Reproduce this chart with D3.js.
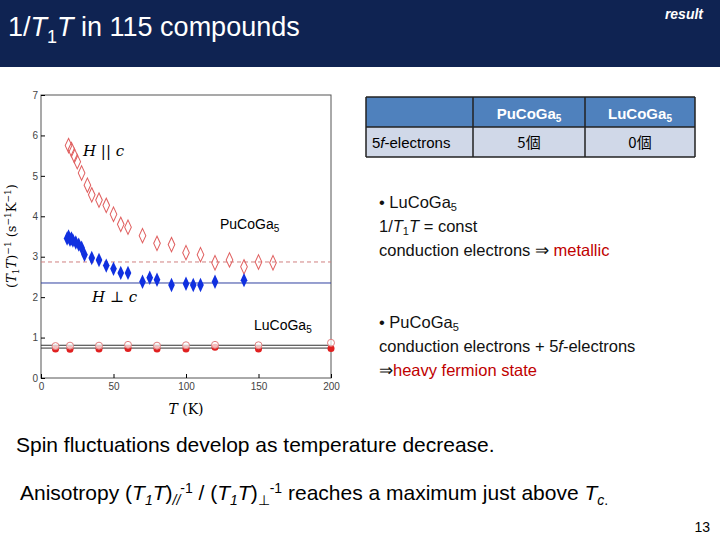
<!DOCTYPE html>
<html><head><meta charset="utf-8">
<script src="https://cdn.jsdelivr.net/npm/d3@7"></script>
<style>body{margin:0;background:#fff}svg{display:block;font-family:Arial,"Liberation Sans",sans-serif}</style>
</head><body><svg id="s" width="720" height="540"></svg>
<script>
// data
const hParT = [19,21,23,25,28,32,35,40,45,50,55,60,70,80,90,100,110,120,130,140,150,160]
const hParV = [5.75,5.65,5.5,5.35,5.07,4.77,4.53,4.4,4.27,4.05,3.8,3.73,3.52,3.33,3.3,3.1,3.05,2.85,2.92,2.75,2.87,2.85]
const hPerpT = [18,19,20,21,22,24,26,28,30,35,40,45,50,55,60,70,75,80,90,100,105,110,120,140]
const hPerpV = [3.45,3.5,3.42,3.45,3.4,3.35,3.3,3.22,3.05,2.97,2.92,2.78,2.7,2.6,2.6,2.38,2.48,2.43,2.3,2.33,2.3,2.3,2.38,2.42]
const luT = [10,20,40,60,80,100,120,150,200]
const luOpenV = [0.79,0.8,0.8,0.82,0.8,0.81,0.82,0.81,0.87]
const luFillV = [0.72,0.71,0.72,0.73,0.72,0.72,0.76,0.72,0.73]
const refLines = [{v:2.87,c:"#d08080",dash:"4,3"},{v:2.35,c:"#3040a0"},{v:0.81,c:"#333"},{v:0.74,c:"#333"}]

const svg = d3.select("#s")
// header
svg.append("rect").attr("width",720).attr("height",67).attr("fill","#0f2352")
const tt = svg.append("text").attr("x",8).attr("y",36).attr("fill","#fff").attr("font-size",27)
tt.append("tspan").text("1/")
tt.append("tspan").attr("font-style","italic").text("T")
tt.append("tspan").attr("font-size",18).attr("dy",7).text("1")
tt.append("tspan").attr("font-style","italic").attr("dy",-7).text("T")
tt.append("tspan").text(" in 115 compounds")
svg.append("text").attr("x",703).attr("y",19).attr("text-anchor","end").attr("fill","#fff")
  .attr("font-size",14).attr("font-style","italic").attr("font-weight","bold").text("result")

// chart
const x = d3.scaleLinear().domain([0,200]).range([41,331])
const y = d3.scaleLinear().domain([0,7]).range([378,95])
const g = svg.append("g").attr("font-family","'DejaVu Serif',serif")
g.append("rect").attr("x",41).attr("y",95).attr("width",290).attr("height",283)
  .attr("fill","none").attr("stroke","#555")
g.append("g").attr("transform","translate(0,378)")
  .call(d3.axisBottom(x).tickValues([0,50,100,150,200]).tickSizeInner(-4).tickSizeOuter(0))
  .call(a=>{a.select(".domain").remove();a.selectAll("text").attr("font-size",10).attr("dy","0.9em").attr("fill","#444")})
g.append("g").attr("transform","translate(41,0)")
  .call(d3.axisLeft(y).ticks(7).tickSizeInner(-4).tickSizeOuter(0))
  .call(a=>{a.select(".domain").remove();a.selectAll("text").attr("font-size",10).attr("fill","#444")})
g.append("text").attr("x",186).attr("y",414).attr("text-anchor","middle").attr("font-size",14)
  .html("<tspan font-style='italic'>T</tspan> (K)")
g.append("text").attr("transform","translate(16,236) rotate(-90)").attr("text-anchor","middle").attr("font-size",13)
  .html("(<tspan font-style='italic'>T</tspan><tspan font-size='9' dy='3'>1</tspan><tspan font-style='italic' dy='-3'>T</tspan>)<tspan font-size='9' dy='-5'>−1</tspan><tspan dy='5'> (s</tspan><tspan font-size='9' dy='-5'>−1</tspan><tspan dy='5'>K</tspan><tspan font-size='9' dy='-5'>−1</tspan><tspan dy='5'>)</tspan>")
refLines.forEach(r=>g.append("line").attr("x1",41).attr("x2",331).attr("y1",y(r.v)).attr("y2",y(r.v))
  .attr("stroke",r.c).attr("stroke-dasharray",r.dash||null))
const dia = d3.symbol().type(d3.symbolDiamond).size(60)
g.selectAll(".hp").data(hParT).join("path").attr("d",dia)
  .attr("transform",(d,i)=>`translate(${x(d)},${y(hParV[i])}) scale(0.8,1)`)
  .attr("fill","none").attr("stroke","#e06060").attr("stroke-width",1.2)
g.selectAll(".hq").data(hPerpT).join("path").attr("d",dia)
  .attr("transform",(d,i)=>`translate(${x(d)},${y(hPerpV[i])}) scale(0.8,1)`)
  .attr("fill","#1030e0")
g.selectAll(".lf").data(luT).join("circle").attr("cx",d=>x(d)).attr("cy",(d,i)=>y(luFillV[i])).attr("r",3.5).attr("fill","#e02020")
g.selectAll(".lo").data(luT).join("circle").attr("cx",d=>x(d)).attr("cy",(d,i)=>y(luOpenV[i])).attr("r",3.5)
  .attr("fill","#fff").attr("fill-opacity",0.7).attr("stroke","#e08080")
g.append("text").attr("x",83).attr("y",156).attr("font-size",15).html("<tspan font-style='italic'>H</tspan> || <tspan font-style='italic'>c</tspan>")
g.append("text").attr("x",92).attr("y",302).attr("font-size",15).html("<tspan font-style='italic'>H</tspan> ⊥ <tspan font-style='italic'>c</tspan>")
const sub = (t,xx,yy)=>svg.append("text").attr("x",xx).attr("y",yy).attr("font-size",14).html(`${t}<tspan font-size='10' dy='3'>5</tspan>`)
sub("PuCoGa",220,229); sub("LuCoGa",254,330)

// table
const cols=[366,473,585,695], rows=[97,127,157]
svg.append("rect").attr("x",366).attr("y",97).attr("width",329).attr("height",30).attr("fill","#4f81bd")
svg.append("rect").attr("x",366).attr("y",127).attr("width",329).attr("height",30).attr("fill","#d0d8e8")
cols.forEach(c=>svg.append("line").attr("x1",c).attr("x2",c).attr("y1",97).attr("y2",157).attr("stroke","#222").attr("stroke-width",1.5))
rows.forEach(r=>svg.append("line").attr("x1",366).attr("x2",695).attr("y1",r).attr("y2",r).attr("stroke","#222").attr("stroke-width",1.5))
;[["PuCoGa",529],["LuCoGa",640]].forEach(([t,cx])=>svg.append("text").attr("x",cx).attr("y",119).attr("text-anchor","middle")
  .attr("font-size",15).attr("fill","#fff").attr("font-weight","bold").html(`${t}<tspan font-size='10' dy='3'>5</tspan>`))
svg.append("text").attr("x",372).attr("y",148).attr("font-size",15).html("5<tspan font-style='italic'>f</tspan>-electrons")
;[["5個",529],["0個",640]].forEach(([t,cx])=>svg.append("text").attr("x",cx).attr("y",148).attr("text-anchor","middle").attr("font-size",15)
  .attr("font-family","'Noto Sans CJK JP',sans-serif").text(t))

// bullets
const bt=(yy,h)=>svg.append("text").attr("x",379).attr("y",yy).attr("font-size",16.5).attr("fill","#111").html(h)
bt(208,"• LuCoGa<tspan font-size='11' dy='3'>5</tspan>")
bt(232,"1/<tspan font-style='italic'>T</tspan><tspan font-size='11' dy='3'>1</tspan><tspan font-style='italic' dy='-3'>T</tspan> = const")
bt(256,"conduction electrons ⇒ <tspan fill='#c00000'>metallic</tspan>")
bt(328,"• PuCoGa<tspan font-size='11' dy='3'>5</tspan>")
bt(352," conduction electrons + 5<tspan font-style='italic'>f</tspan>-electrons")
bt(376,"⇒<tspan fill='#c00000'>heavy fermion state</tspan>")
svg.append("text").attr("x",16).attr("y",452).attr("font-size",21).text("Spin fluctuations develop as temperature decrease.")
svg.append("text").attr("x",20).attr("y",500).attr("font-size",21)
  .html("Anisotropy (<tspan font-style='italic'>T</tspan><tspan font-size='14' dy='5' font-style='italic'>1</tspan><tspan font-style='italic' dy='-5'>T</tspan>)<tspan font-size='14' dy='5' font-style='italic'>//</tspan><tspan font-size='14' dy='-12'>-1</tspan><tspan dy='7'> / (</tspan><tspan font-style='italic'>T</tspan><tspan font-size='14' dy='5' font-style='italic'>1</tspan><tspan font-style='italic' dy='-5'>T</tspan>)<tspan font-size='14' dy='5'>⊥</tspan><tspan font-size='14' dy='-12'>-1</tspan><tspan dy='7'> reaches a maximum just above </tspan><tspan font-style='italic'>T</tspan><tspan font-size='14' dy='5' font-style='italic'>c</tspan><tspan font-size='14'>.</tspan>")
svg.append("text").attr("x",710).attr("y",532).attr("text-anchor","end").attr("font-size",14).text("13")
</script></body></html>
